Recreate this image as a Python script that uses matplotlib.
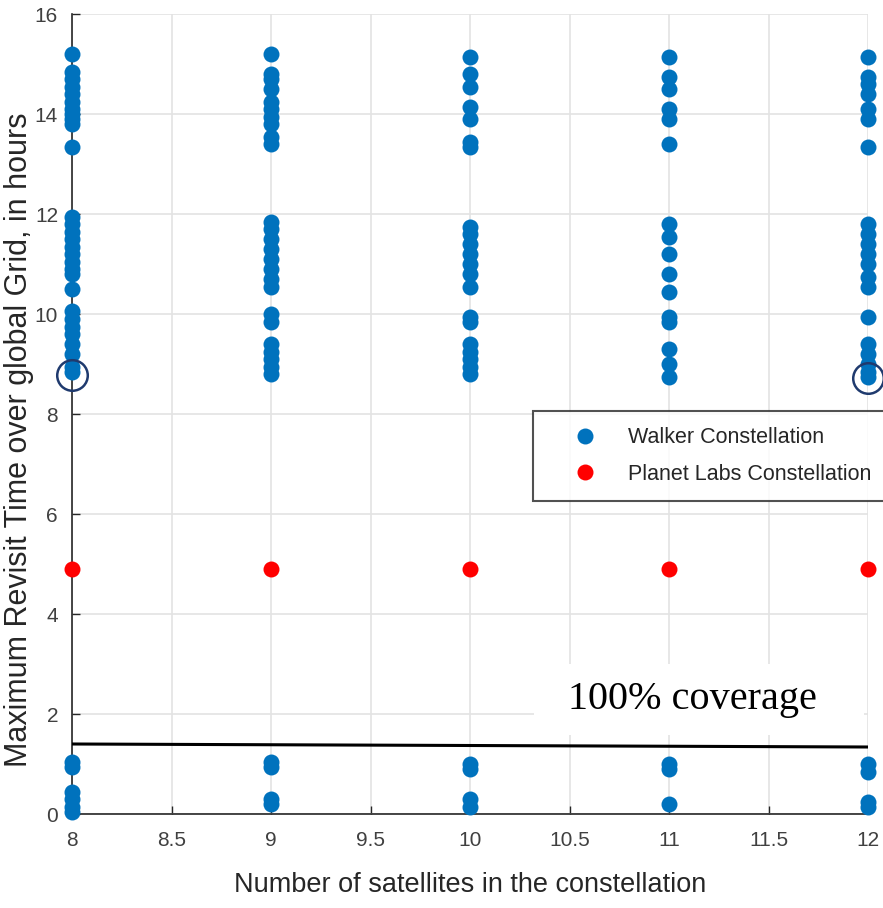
import matplotlib
matplotlib.use("Agg")
import matplotlib.pyplot as plt
from matplotlib.patches import Rectangle

# Walker constellation: max revisit time (hours) per constellation size
walker_8 = [15.2, 14.85, 14.7, 14.55, 14.4, 14.25, 14.1, 14.0, 13.9, 13.8, 13.35,
            11.95, 11.8, 11.65, 11.5, 11.35, 11.2, 11.05, 10.9, 10.8, 10.5,
            10.05, 9.9, 9.75, 9.6, 9.4, 9.2, 8.95, 8.85,
            1.05, 0.95, 0.45, 0.3, 0.15, 0.05]
walker_9 = [15.2, 14.8, 14.7, 14.5, 14.25, 14.1, 13.95, 13.8, 13.55, 13.4,
            11.85, 11.7, 11.5, 11.3, 11.1, 10.9, 10.7, 10.55,
            10.0, 9.85, 9.4, 9.25, 9.1, 8.95, 8.8,
            1.05, 0.95, 0.3, 0.2]
walker_10 = [15.15, 14.8, 14.55, 14.15, 13.9, 13.45, 13.35,
             11.75, 11.6, 11.4, 11.2, 11.0, 10.8, 10.55,
             9.95, 9.85, 9.4, 9.25, 9.1, 8.95, 8.8,
             1.0, 0.9, 0.3, 0.15]
walker_11 = [15.15, 14.75, 14.5, 14.1, 13.9, 13.4,
             11.8, 11.55, 11.2, 10.8, 10.45,
             9.95, 9.85, 9.3, 9.0, 8.75,
             1.0, 0.9, 0.2]
walker_12 = [15.15, 14.75, 14.6, 14.4, 14.1, 13.9, 13.35,
             11.8, 11.6, 11.4, 11.2, 11.0, 10.75, 10.55,
             9.95, 9.4, 9.2, 9.0, 8.85, 8.75,
             1.0, 0.85, 0.25, 0.15]
walker = {8: walker_8, 9: walker_9, 10: walker_10, 11: walker_11, 12: walker_12}

planet_n = [8, 9, 10, 11, 12]
planet_t = [4.9, 4.9, 4.9, 4.9, 4.9]

# best Walker cases (circled)
best_n = [8, 12]
best_t = [8.78, 8.72]

# 100% coverage line
cov_n = [8, 12]
cov_t = [1.4, 1.34]

xticks = [8, 8.5, 9, 9.5, 10, 10.5, 11, 11.5, 12]
xticklabels = ["8", "8.5", "9", "9.5", "10", "10.5", "11", "11.5", "12"]
yticks = [0, 2, 4, 6, 8, 10, 12, 14, 16]

plt.rcParams["font.family"] = ["Liberation Sans", "DejaVu Sans"]

fig = plt.figure(figsize=(8.83, 9.08), dpi=100)
ax = fig.add_axes([72 / 883, 1 - 814 / 908, 796 / 883, 800 / 908])

wx, wy = [], []
for n, vals in walker.items():
    wx += [n] * len(vals)
    wy += vals
ax.plot(wx, wy, "o", color="#0072BD", markersize=11.5, markeredgewidth=0,
        label="Walker Constellation", clip_on=False, zorder=3)
ax.plot(planet_n, planet_t, "o", color="#FF0000", markersize=11.5, markeredgewidth=0,
        label="Planet Labs Constellation", clip_on=False, zorder=3)
ax.plot(best_n, best_t, "o", markersize=22, markerfacecolor="none",
        markeredgecolor="#1F3A6E", markeredgewidth=1.8, clip_on=False, zorder=4)
ax.plot(cov_n, cov_t, "-", color="black", linewidth=2.2, zorder=4)

# white patch behind the annotation (hides the grid there)
ax.add_patch(Rectangle((10.32, 1.58), 1.66, 1.42, facecolor="white",
                       edgecolor="none", zorder=2))
ax.text(11.12, 2.28, "100% coverage", fontsize=29, family="Liberation Serif",
        ha="center", va="center", zorder=5)

ax.set_xlim(8, 12)
ax.set_ylim(0, 16)
ax.set_xticks(xticks)
ax.set_xticklabels(xticklabels)
ax.set_yticks(yticks)
ax.grid(True, color="#e3e3e3", linewidth=1.2)
ax.set_axisbelow(True)
for s in ["top", "right"]:
    ax.spines[s].set_visible(False)
for s in ["left", "bottom"]:
    ax.spines[s].set_color("#262626")
    ax.spines[s].set_linewidth(1.2)
ax.tick_params(direction="in", length=6, width=1, colors="#262626",
               labelsize=15, labelcolor="#404040")
ax.tick_params(axis="x", pad=12)
ax.tick_params(axis="y", pad=10)

ax.set_xlabel("Number of satellites in the constellation", fontsize=19.5,
              color="#262626")
ax.set_ylabel("Maximum Revisit Time over global Grid, in hours", fontsize=22,
              color="#262626")
ax.xaxis.label.set_va("center")
ax.yaxis.label.set_va("center")
ax.xaxis.set_label_coords(0.5, -0.089)
ax.yaxis.set_label_coords(-0.067, 0.4675)

leg = fig.legend(loc="upper left", bbox_to_anchor=(533 / 883, 1 - 411 / 908),
                 fontsize=15.5, frameon=True, fancybox=False, borderpad=0.75,
                 handletextpad=0.33, borderaxespad=0, labelspacing=0.72,
                 handlelength=3.35)
leg.get_frame().set_edgecolor("#262626")
leg.get_frame().set_linewidth(1.5)
for t in leg.get_texts():
    t.set_color("#262626")

fig.savefig("out.png", dpi=100, facecolor="white")
